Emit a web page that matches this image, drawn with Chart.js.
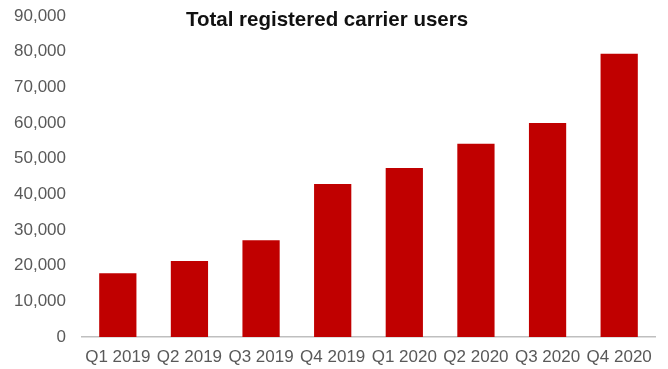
<!DOCTYPE html>
<html>
<head>
<meta charset="utf-8">
<script src="https://cdn.jsdelivr.net/npm/chart.js@4/dist/chart.umd.min.js"></script>
<style>
  html, body { margin: 0; padding: 0; background: #fff; }
  #wrap { width: 668px; height: 369px; }
</style>
</head>
<body>
<div id="wrap"><canvas id="usersChart" width="668" height="369"></canvas></div>
<script>
const quarters = ['Q1 2019', 'Q2 2019', 'Q3 2019', 'Q4 2019', 'Q1 2020', 'Q2 2020', 'Q3 2020', 'Q4 2020'];
const registeredUsers = [17900, 21300, 27100, 42900, 47400, 54200, 60000, 79400];
const yTicks = [0, 10000, 20000, 30000, 40000, 50000, 60000, 70000, 80000, 90000];
const chartTitle = 'Total registered carrier users';

// title sits inside the plot area, so draw it by hand
const titlePlugin = {
  id: 'insideTitle',
  afterDraw(chart) {
    const ctx = chart.ctx;
    ctx.save();
    ctx.font = 'bold 20.5px "Liberation Sans", Arial, sans-serif';
    ctx.fillStyle = '#111';
    ctx.textAlign = 'center';
    ctx.textBaseline = 'middle';
    ctx.fillText(chartTitle, 327, 20);
    ctx.restore();
  }
};

const tickFont = { family: '"Liberation Sans", Arial, sans-serif', size: 17 };

new Chart(document.getElementById('usersChart'), {
  type: 'bar',
  data: {
    labels: quarters,
    datasets: [{
      data: registeredUsers,
      backgroundColor: '#c00000',
      categoryPercentage: 1,
      barPercentage: 0.52
    }]
  },
  options: {
    responsive: false,
    animation: false,
    layout: { padding: { top: 16, right: 13, left: 0, bottom: 0 } },
    plugins: { legend: { display: false }, tooltip: { enabled: false } },
    scales: {
      x: {
        grid: { display: false, drawTicks: false },
        border: { color: '#bfbfbf', width: 1.5 },
        ticks: { color: '#595959', font: tickFont, padding: 10, maxRotation: 0 },
        afterFit(axis) { axis.height = 32; }
      },
      y: {
        min: 0,
        max: 90000,
        grid: { display: false, drawTicks: false },
        border: { display: false },
        afterBuildTicks(axis) { axis.ticks = yTicks.map(v => ({ value: v })); },
        ticks: {
          color: '#595959',
          font: tickFont,
          padding: 16,
          callback: v => v.toLocaleString('en-US')
        },
        afterFit(axis) {
          axis.width = 82;
          axis.paddingTop = 0;
          axis.paddingBottom = 0;
        }
      }
    }
  },
  plugins: [titlePlugin]
});
</script>
</body>
</html>
